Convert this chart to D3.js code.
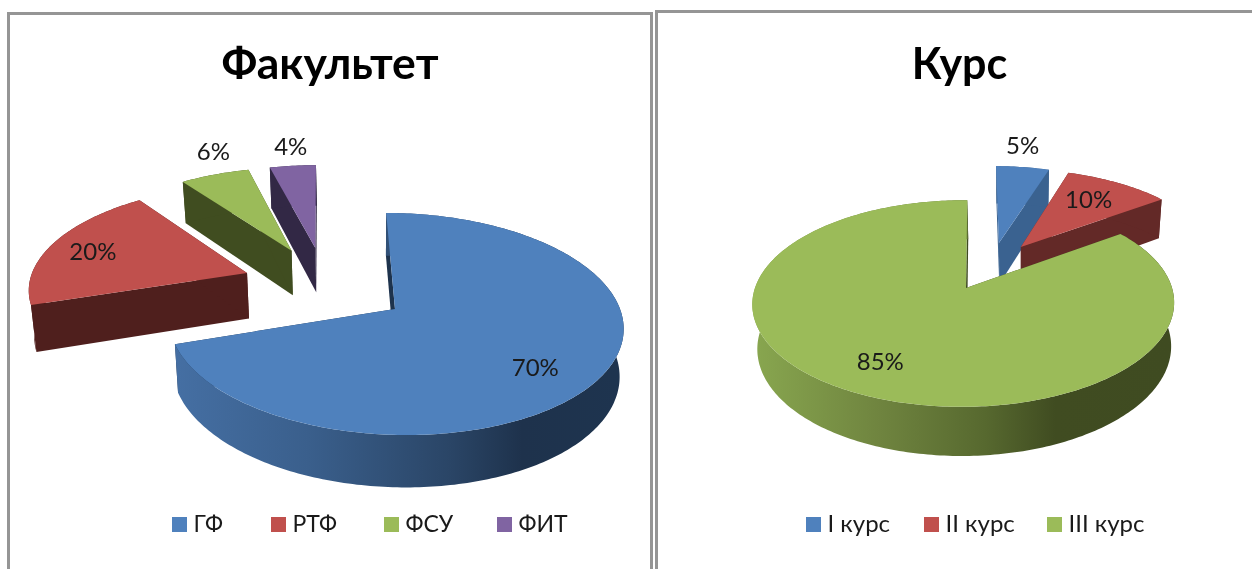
<!DOCTYPE html>
<html>
<head>
<meta charset="utf-8">
<script src="https://cdn.jsdelivr.net/npm/d3@7"></script>
<style>
    html, body { margin: 0; padding: 0; background: #fff; overflow: hidden; }
    svg { display: block; filter: blur(0.45px); }
    text { font-family: Lato, "Noto Sans", sans-serif; fill: #1a1a1a; }
</style>
</head>
<body>
<svg width="1252" height="569"></svg>
<script>
// Chart values
let faculty_names = ['ГФ', 'РТФ', 'ФСУ', 'ФИТ']
let faculty_values = [70, 20, 6, 4]
let course_names = ['I курс', 'II курс', 'III курс']
let course_values = [5, 10, 85]

// Camera and styling for each pie
let faculty_chart = {
    title: 'Факультет', titleX: 330, titleY: 79, titleSize: 44.5,
    names: faculty_names, values: faculty_values,
    colors: ['#4f81bd', '#c0504d', '#9bbb59', '#8064a2'],
    walls: ['#1e334d', '#4f1f1d', '#404d20', '#322845'],
    rim: {index: 0, x: [175, 620], stops: [[0, '#456fa3'], [0.3, '#3a5f8c'], [0.62, '#2a4566'], [0.78, '#1e324c'], [1, '#1e344f']]},
    cam: {cx: 395, cy: 309, A: 225, B: 109, k: 0.135, m: 0, S: 10, depth: 47, vx: 370, g: 0.016},
    explode: [[0, 0], [-0.673, -0.345], [-0.47, -0.575], [-0.356, -0.605]],
    labelR: [0.752, 0.78, 1.3, 1.268],
    labelTurn: [6, -1.4, 4.8, 0.8],
    legendX: [172, 271, 384, 497], legendSize: 23
}
let course_chart = {
    title: 'Курс', titleX: 959.5, titleY: 79, titleSize: 43,
    names: course_names, values: course_values,
    colors: ['#4f81bd', '#c0504d', '#9bbb59'],
    walls: ['#3a6290', '#632927', '#3f4b21'],
    rim: {index: 2, x: [755, 1172], stops: [[0, '#88a64f'], [0.3, '#6f843f'], [0.55, '#57692f'], [0.72, '#404c21'], [1, '#3f4b21']]},
    cam: {cx: 966, cy: 288, A: 208.5, B: 101, k: 0.15, m: -0.012, S: -1.5, depth: 43.5, vx: 1017, g: 0.019},
    explode: [[0.166, -0.477], [0.278, -0.435], [0, 0]],
    labelR: [1.33, 0.703, 0.747],
    labelTurn: [-1.8, -1.6, 2.2],
    legendX: [806, 924, 1047], legendSize: 24
}

let svg = d3.select('svg')
let defs = svg.append('defs')

// Frames
let frame = d3.line()
svg.append('path').attr('class', 'frame').attr('d', frame([[8.5, 569], [8.5, 13.5], [651.5, 13.5], [651.5, 569]]))
svg.append('path').attr('class', 'frame').attr('d', frame([[656.5, 569], [656.5, 11.5], [1252, 11.5]]))
svg.selectAll('.frame').attr('fill', 'none').attr('stroke', '#959595').attr('stroke-width', 3)

drawPie(faculty_chart, 'faculty')
drawPie(course_chart, 'course')

function drawPie(chart, id) {
    let cam = chart.cam
    let format = d3.format('.0%')
    let total = d3.sum(chart.values)
    let color = d3.scaleOrdinal().domain(chart.names).range(chart.colors)
    let pie = d3.pie().sort(null).value(d => d)
    let slices = pie(chart.values)
    slices.forEach(s => { s.offset = chart.explode[s.index] })

    // Perspective: v grows towards the viewer
    let project = (u, v) => {
        let w = 1 - cam.k * v - cam.m * u
        return {x: cam.cx + (cam.A * u + cam.S * v) / w, y: cam.cy + cam.B * v / w, w: w}
    }
    let top = (u, v) => {
        let p = project(u, v)
        return [p.x, p.y]
    }
    let bottom = (u, v) => {
        let p = project(u, v)
        return [p.x + (cam.vx - p.x) * cam.g, p.y + cam.depth / Math.pow(p.w, 0.75)]
    }
    let onRim = (s, a, r = 1) => [s.offset[0] + r * Math.sin(a), s.offset[1] - r * Math.cos(a)]
    let arcAngles = s => d3.range(s.startAngle, s.endAngle, Math.PI / 180).concat([s.endAngle])
    let line = d3.line()

    let g = svg.append('g').attr('class', id)

    // Far slices first
    let ordered = slices.slice().sort((a, b) => a.offset[1] - b.offset[1])
    ordered.forEach(s => {
        let apex = s.offset
        let wall = chart.walls[s.index]

        // Cut faces
        ;[s.startAngle, s.endAngle].forEach(a => {
            let rim = onRim(s, a)
            g.append('path')
                .attr('d', line([top(...apex), top(...rim), bottom(...rim), bottom(...apex)]) + 'Z')
                .attr('fill', wall)
        })

        // Outer wall
        let fill = wall
        if (chart.rim.index === s.index) {
            let grad = defs.append('linearGradient')
                .attr('id', id + '-rim')
                .attr('gradientUnits', 'userSpaceOnUse')
                .attr('x1', chart.rim.x[0]).attr('x2', chart.rim.x[1])
                .attr('y1', 0).attr('y2', 0)
            chart.rim.stops.forEach(d => grad.append('stop').attr('offset', d[0]).attr('stop-color', d[1]))
            fill = `url(#${id}-rim)`
        }
        let angles = arcAngles(s)
        let upper = angles.map(a => top(...onRim(s, a)))
        let lower = angles.map(a => bottom(...onRim(s, a))).reverse()
        g.append('path').attr('d', line(upper.concat(lower)) + 'Z').attr('fill', fill)

        // Top face
        g.append('path')
            .attr('d', line([top(...apex)].concat(upper)) + 'Z')
            .attr('fill', color(chart.names[s.index]))
    })

    // Percent labels
    let labelPoint = d => {
        let a = (d.startAngle + d.endAngle) / 2 + chart.labelTurn[d.index] * Math.PI / 180
        return top(...onRim(d, a, chart.labelR[d.index]))
    }
    g.selectAll('.label')
        .data(slices)
        .enter()
        .append('text')
        .attr('class', 'label')
        .attr('text-anchor', 'middle')
        .attr('font-size', 24)
        .attr('dy', '0.35em')
        .attr('x', d => labelPoint(d)[0])
        .attr('y', d => labelPoint(d)[1])
        .text(d => format(d.data / total))

    // Title
    svg.append('text')
        .attr('x', chart.titleX)
        .attr('y', chart.titleY)
        .attr('text-anchor', 'middle')
        .attr('font-size', chart.titleSize)
        .attr('font-weight', 700)
        .style('fill', '#000')
        .text(chart.title)

    // Legend
    chart.names.forEach((name, i) => {
        svg.append('rect')
            .attr('x', chart.legendX[i]).attr('y', 517)
            .attr('width', 15).attr('height', 15)
            .attr('fill', color(name))
        svg.append('text')
            .attr('x', chart.legendX[i] + 21.5)
            .attr('y', 532)
            .attr('font-size', chart.legendSize)
            .text(name)
    })
}
</script>
</body>
</html>
